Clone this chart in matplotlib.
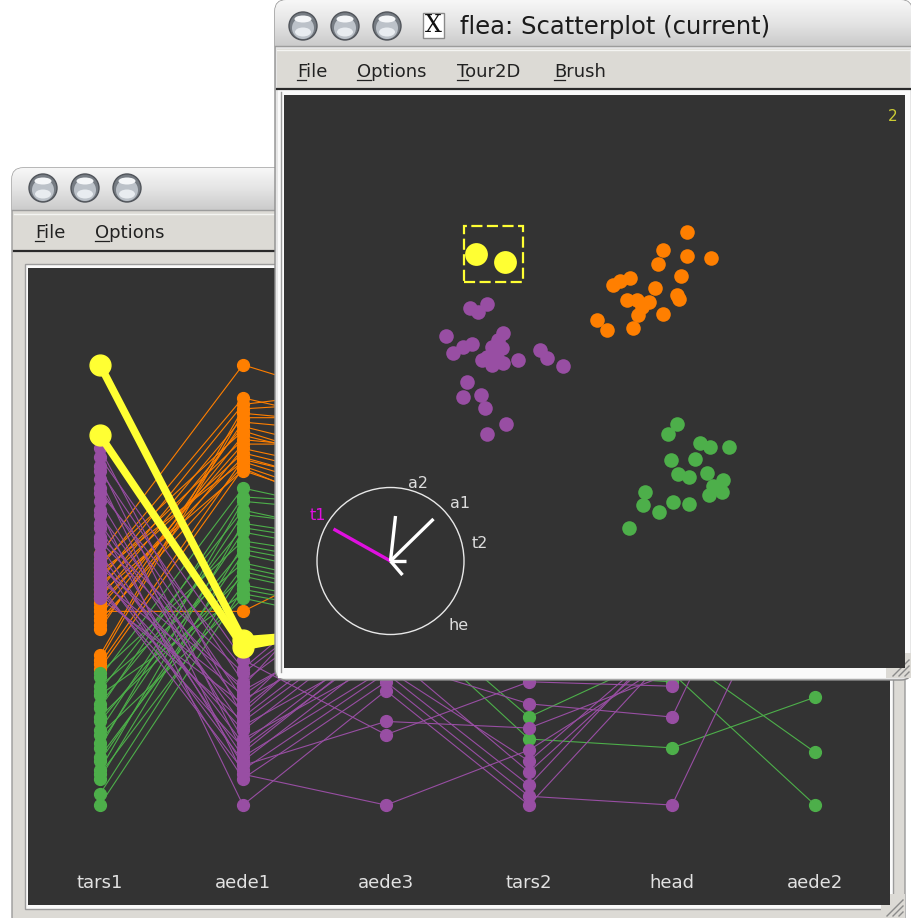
import numpy as np
import matplotlib.pyplot as plt
from matplotlib.colors import LinearSegmentedColormap
from matplotlib.patches import Circle, Ellipse, FancyBboxPatch, Rectangle

W, H = 912, 918

# parallel coordinates: each variable scaled 0-100 (ggobi per-variable scaling)
variables = ["tars1", "aede1", "aede3", "tars2", "head", "aede2"]

purple_pc = [
    [81, 79, 77, 76, 74, 72, 71, 69, 67, 66, 64, 63, 61, 60, 59, 57, 56, 55, 54, 53, 52, 51, 50, 49, 48, 47],
    [20, 33, 12, 28, 7, 24, 31, 15, 0, 22, 18, 9, 30, 26, 11, 14, 6, 21, 27, 10, 17, 25, 8, 13, 19, 23],
    [45, 16, 38, 52, 0, 41, 58, 33, 26, 48, 36, 19, 55, 44, 31, 39, 28, 50, 62, 35, 42, 47, 30, 37, 43, 54],
    [40, 28, 45, 35, 12.5, 50, 38, 23, 0, 55, 33, 17.5, 42, 48, 10, 36, 2, 52, 46, 7.5, 30, 44, 4.5, 32, 39, 58],
    [50, 27, 55, 40, 33, 62, 45, 20, 35, 58, 42, 30, 65, 48, 38, 52, 0, 60, 46, 37, 44, 57, 39, 41, 53, 66],
    [70, 85, 62, 78, 90, 55, 74, 88, 66, 80, 58, 92, 72, 60, 83, 76, 68, 86, 64, 79, 71, 82, 57, 75, 87, 61],
]
orange_pc = [
    [57, 55, 54, 53, 52, 51, 50, 49, 48, 47, 46, 45, 44, 43, 42, 41, 40, 34, 33, 32, 31],
    [100, 85, 92.5, 78, 83, 91, 80, 88, 76, 86, 79, 82, 44, 84, 77, 81, 87, 90, 89, 78.5, 76.5],
    [90, 75, 85, 68, 80, 95, 72, 88, 65, 78, 70, 82, 60, 76, 66, 74, 84, 92, 86, 71, 63],
    [80, 62, 90, 45, 70, 85, 55, 75, 31, 65, 50, 72, 32, 60, 40, 58, 78, 88, 68, 48, 35],
    [70, 50, 80, 31, 60, 75, 40, 65, 30, 55, 35, 68, 29.5, 45, 33, 52, 72, 78, 58, 38, 32],
    [60, 45, 75, 35, 55, 70, 40, 65, 32, 50, 38, 62, 30, 48, 42, 52, 68, 72, 58, 36, 44],
]
green_pc = [
    [30, 29, 27, 26, 25, 23, 22, 20, 19, 17, 16, 14, 13, 11, 10, 8, 7, 6, 2.5, 0],
    [60, 72, 55, 67, 48, 63, 70, 52, 58, 66, 47, 62, 69, 54, 57, 64, 50, 59, 53, 49],
    [55, 65, 48, 60, 42, 58, 68, 45, 52, 62, 40, 56, 66, 47, 50, 59, 44, 53, 46, 43],
    [45, 55, 20, 50, 35, 48, 60, 15, 40, 52, 30, 46, 58, 38, 42, 50, 33, 44, 36, 32],
    [40, 52, 35, 48, 30, 45, 55, 13, 38, 50, 28, 44, 56, 36, 42, 47, 33, 41, 37, 32],
    [50, 60, 12, 55, 0, 45, 65, 24.5, 40, 58, 35, 48, 62, 38, 42, 52, 33, 46, 36, 30],
]
yellow_pc = [[100, 84], [37.5, 36], [40, 42], [45, 50], [55, 60], [75, 80]]

# 2D tour projection shown in the scatterplot window
purple_x = [186, 203, 194, 162, 169, 179, 188, 219, 214, 208, 218, 203, 213, 219, 198, 208,
            234, 256, 263, 279, 183, 179, 197, 201, 222, 203]
purple_y = [360, 364, 356, 332, 315, 321, 324, 335, 328, 321, 320, 311, 310, 305, 308, 303,
            308, 318, 310, 302, 286, 271, 273, 260, 244, 234]
orange_x = [403, 379, 403, 427, 374, 397, 346, 336, 329, 371, 393, 395, 343, 353, 365, 358,
            354, 379, 313, 323, 349]
orange_y = [436, 418, 412, 410, 404, 392, 390, 387, 383, 380, 373, 369, 368, 368, 366, 361,
            353, 354, 348, 338, 340]
green_x = [393, 384, 416, 426, 445, 387, 411, 394, 405, 423, 439, 429, 425, 438, 361, 359,
           389, 405, 375, 345]
green_y = [244, 234, 225, 221, 221, 208, 209, 194, 191, 195, 188, 182, 173, 176, 176, 163,
           166, 164, 156, 140]
yellow_x = [192, 221]
yellow_y = [414, 406]

tour_vars = ["t1", "a2", "a1", "t2", "he"]
tour_dx = [-57, 5, 43, 15, 12]
tour_dy = [32, 45, 42, 0, -14]

PURPLE, ORANGE, GREEN, YELLOW = "#984ea3", "#ff7f00", "#4daf4a", "#ffff33"
DARK = "#333333"
MENU = "#dcdad5"

fig = plt.figure(figsize=(W / 100, H / 100), dpi=100)
fig.patch.set_facecolor("white")


def px_axes(x0, y0, x1, y1, z):
    ax = fig.add_axes([x0 / W, 1 - y1 / H, (x1 - x0) / W, (y1 - y0) / H])
    ax.set_zorder(z)
    return ax


def chrome_axes(z):
    ax = px_axes(0, 0, W, H, z)
    ax.axis("off")
    return ax


def title_bar(ax, x0, y0, x1, y1):
    clip = FancyBboxPatch((x0, y0), x1 - x0, (y1 - y0) + 20, boxstyle="round,pad=0,rounding_size=11",
                          fc="none", ec="none", transform=ax.transData)
    cmap = LinearSegmentedColormap.from_list("tb", ["#f7f7f7", "#e4e4e4", "#cbcbcb"])
    im = ax.imshow(np.linspace(0, 1, 64).reshape(-1, 1), cmap=cmap, extent=(x0, x1, y1, y0),
                   aspect="auto", zorder=1)
    im.set_clip_path(clip)
    ax.plot([x0, x1], [y1, y1], color="#9c9c9c", lw=1, zorder=2)


def button(ax, cx, cy):
    ax.add_patch(Circle((cx, cy), 14, fc="#767c83", ec="#50545a", lw=1, zorder=3))
    ax.add_patch(Circle((cx, cy + 2), 11, fc="#bcc2c9", ec="none", zorder=3))
    ax.add_patch(Ellipse((cx, cy + 6), 16, 9, fc="#e8ecf0", ec="none", zorder=3))
    ax.add_patch(Ellipse((cx, cy - 7), 17, 7, fc="#f4f6f8", ec="none", zorder=3))


def menu(ax, items, y):
    for label, x, uw in items:
        ax.text(x, y, label, fontsize=13, color="#222222", va="baseline", ha="left", zorder=4)
        ax.plot([x, x + uw], [y + 2.5, y + 2.5], color="#222222", lw=0.9, zorder=4)


def grip(ax, x0, y0, size):
    ax.add_patch(Rectangle((x0, y0), size, size, fc=MENU, ec="none", zorder=3))
    for k in (6, 12, 18):
        ax.plot([x0 + size - k, x0 + size - 2], [y0 + size - 2, y0 + size - k], color="#8a8a8a",
                lw=1, zorder=4)


# back window (parallel coordinates)
back = chrome_axes(0)
back.add_patch(FancyBboxPatch((12, 168), 893, 760, boxstyle="round,pad=0,rounding_size=11",
                              fc=MENU, ec="#9a9a9a", lw=1, zorder=0))
title_bar(back, 12, 168, 905, 210)
for cx in (43, 85, 127):
    button(back, cx, 188)
back.add_patch(Rectangle((14, 213), 889, 37, fc=MENU, ec="none", zorder=1))
back.plot([14, 903], [214, 214], color="#f4f4f2", lw=1, zorder=2)
back.plot([14, 903], [250.5, 250.5], color="#2a2a2a", lw=1.6, zorder=2)
menu(back, [("File", 35, 9), ("Options", 95, 14)], 238)
back.add_patch(Rectangle((25, 264), 868, 645, fc="#fafafa", ec="#9c9c9c", lw=1, zorder=1))
grip(back, 881, 894, 24)
back.set_xlim(0, W)
back.set_ylim(H, 0)

par = px_axes(28, 268, 890, 905, 1)
par.set_facecolor(DARK)
for side in par.spines.values():
    side.set_visible(False)
par.set_xticks([])
par.set_yticks([])
xs = np.arange(len(variables))
groups = [(ORANGE, orange_pc), (GREEN, green_pc), (PURPLE, purple_pc)]
for colour, table in groups:
    for row in np.array(table, dtype=float).T:
        par.plot(xs, row, color=colour, lw=0.8, zorder=2)
for colour, table in groups:
    for row in np.array(table, dtype=float).T:
        par.plot(xs, row, ls="none", marker="o", ms=8.5, mfc=colour, mec=colour, zorder=3)
for row in np.array(yellow_pc, dtype=float).T:
    par.plot(xs, row, color=YELLOW, lw=5.5, marker="o", ms=15, mec=YELLOW, zorder=4)
for i, name in enumerate(variables):
    par.text(i, 0.035, name, transform=par.get_xaxis_transform(), ha="center", va="center",
             fontsize=13, color="#e2e2e2")
par.set_xlim(-0.503, 5.524)
par.set_ylim(-22.7, 122.0)

# front window (scatterplot)
front = chrome_axes(2)
front.add_patch(FancyBboxPatch((275, 0), 637, 680, boxstyle="round,pad=0,rounding_size=11",
                               fc="#e6e6e6", ec="#8e8e8e", lw=1, zorder=0))
title_bar(front, 275, 0, 912, 46)
for cx in (303, 345, 387):
    button(front, cx, 26)
front.add_patch(Rectangle((423, 13), 21, 25, fc="white", ec="#8a8a8a", lw=1, zorder=3))
front.text(433.5, 26, "X", family="DejaVu Serif", fontsize=17, ha="center", va="center",
           color="#111111", zorder=4)
front.text(460, 34, "flea: Scatterplot (current)", fontsize=17.5, color="#1b1b1b",
           va="baseline", ha="left", zorder=4)
front.add_patch(Rectangle((277, 49), 633, 39, fc=MENU, ec="none", zorder=1))
front.plot([277, 910], [49.5, 49.5], color="#f4f4f2", lw=1, zorder=2)
front.plot([277, 910], [88.5, 88.5], color="#2a2a2a", lw=1.6, zorder=2)
menu(front, [("File", 297, 9), ("Options", 357, 14), ("Tour2D", 457, 11), ("Brush", 554, 11)], 77)
front.add_patch(Rectangle((278, 90), 632, 588, fc="#fafafa", ec="none", zorder=1))
front.plot([281, 281], [92, 672], color="#9c9c9c", lw=1, zorder=2)
grip(front, 886, 653, 25)
front.set_xlim(0, W)
front.set_ylim(H, 0)

sc = px_axes(284, 95, 905, 668, 3)
sc.set_facecolor(DARK)
for side in sc.spines.values():
    side.set_visible(False)
sc.set_xticks([])
sc.set_yticks([])
sc.scatter(orange_x, orange_y, s=110, color=ORANGE, linewidths=0)
sc.scatter(green_x, green_y, s=110, color=GREEN, linewidths=0)
sc.scatter(purple_x, purple_y, s=110, color=PURPLE, linewidths=0)
sc.scatter(yellow_x, yellow_y, s=270, color=YELLOW, linewidths=0)
sc.add_patch(Rectangle((180, 386), 59, 56, fill=False, ec=YELLOW, lw=1.6, ls=(0, (5, 2))))

cx, cy = 106.5, 107
sc.add_patch(Circle((cx, cy), 73.5, fill=False, ec="#e8e8e8", lw=1))
for name, dx, dy in zip(tour_vars, tour_dx, tour_dy):
    colour = "#e010e0" if name == "t1" else "white"
    sc.plot([cx, cx + dx], [cy, cy + dy], color=colour, lw=2.4, solid_capstyle="butt")
label_pos = {"t1": (26, 153), "a2": (124, 185), "a1": (166, 164), "t2": (188, 125), "he": (164, 42)}
for name in tour_vars:
    lx, ly = label_pos[name]
    sc.text(lx, ly, name, fontsize=11.5, ha="left", va="center",
            color="#e010e0" if name == "t1" else "#dddddd")
sc.text(0.988, 0.975, "2", transform=sc.transAxes, ha="right", va="top", fontsize=11,
        color="#cccc33")
sc.set_xlim(0, 621)
sc.set_ylim(0, 573)

fig.savefig("out.png", dpi=100, facecolor=fig.get_facecolor())
